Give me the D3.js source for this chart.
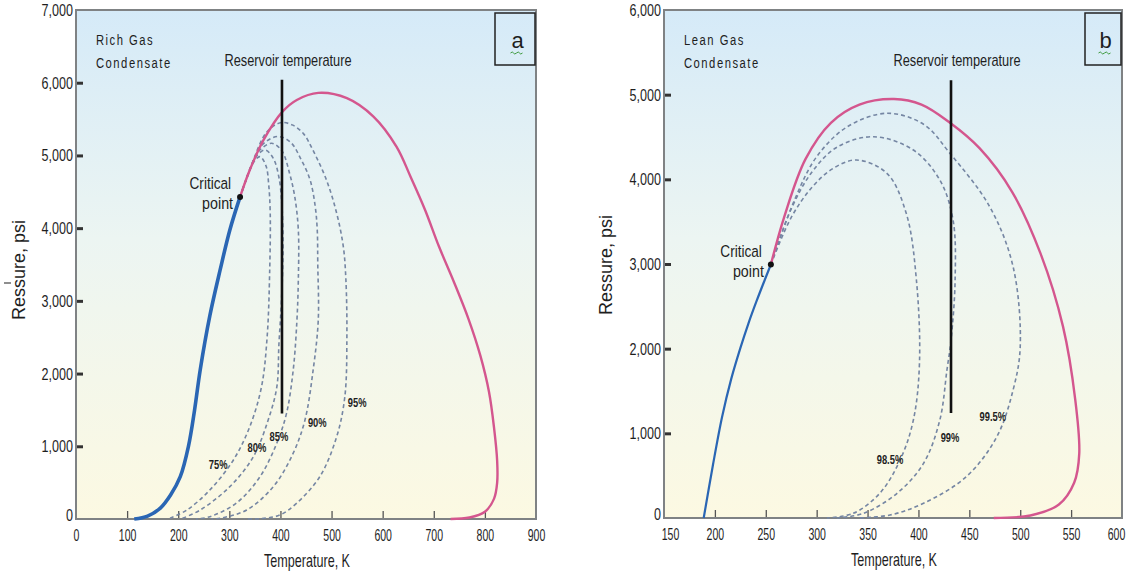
<!DOCTYPE html>
<html>
<head>
<meta charset="utf-8">
<script src="https://cdn.jsdelivr.net/npm/d3@7"></script>
<style>
  body { margin: 0; background: #fff; }
  svg text { font-family: "Liberation Sans", Arial, sans-serif; fill: #1e1e1e; }
</style>
</head>
<body>
<svg id="chart" width="1128" height="573"></svg>
<script>
// ---------- tick labels ----------
const tempTicksA = [0, 100, 200, 300, 400, 500, 600, 700, 800, 900];
const pressTicksA = [0, 1000, 2000, 3000, 4000, 5000, 6000, 7000];
const tempTicksB = [150, 200, 250, 300, 350, 400, 450, 500, 550, 600];
const pressTicksB = [0, 1000, 2000, 3000, 4000, 5000, 6000];

// ---------- panel a : rich gas condensate  [T (K), p (psi)] ----------
const bubbleA = [[114, 0], [140, 40], [165, 150], [185, 330], [204, 582], [220, 1000], [232, 1500],
  [243, 2050], [262, 2800], [282, 3425], [301, 3975], [321, 4430]];
const dewA = [[321, 4430], [340, 4800], [367, 5213], [404, 5602], [432, 5763], [474, 5860], [530, 5787],
  [582, 5534], [627, 5121], [655, 4700], [683, 4250], [710, 3750], [740, 3250], [768, 2750], [791, 2250],
  [808, 1750], [818, 1250], [824, 800], [824, 500], [818, 280], [800, 100], [770, 20], [733, 0]];
const q75A = [[321, 4430], [335, 4700], [347, 4900], [360, 4983], [372, 4850], [377, 4600], [380, 4205],
  [379, 3425], [374, 2508], [363, 1820], [340, 1270], [308, 812], [262, 400], [217, 124], [180, 0]];
const q80A = [[321, 4430], [338, 4760], [352, 4980], [370, 5075], [386, 4960], [397, 4700], [403, 4300],
  [405, 3700], [402, 3000], [397, 2400], [393, 1820], [376, 1362], [347, 857], [301, 445], [243, 124], [205, 0]];
const q85A = [[321, 4430], [340, 4800], [358, 5060], [383, 5167], [403, 5060], [418, 4750], [428, 4433],
  [435, 3975], [435, 3288], [432, 2700], [425, 2050], [412, 1456], [393, 1045], [360, 582], [314, 220],
  [262, 32], [235, 0]];
const q90A = [[321, 4430], [342, 4840], [365, 5150], [395, 5260], [420, 5180], [440, 4950], [458, 4663],
  [468, 4300], [472, 3976], [473, 3517], [474, 2737], [464, 2050], [448, 1362], [425, 905], [386, 445],
  [334, 124], [282, 10], [265, 0]];
const q95A = [[321, 4430], [345, 4900], [373, 5320], [400, 5450], [423, 5420], [445, 5300], [463, 5080],
  [490, 4663], [510, 4205], [523, 3746], [528, 3300], [530, 2508], [526, 1683], [510, 1132], [477, 582],
  [432, 220], [399, 55], [360, 5], [330, 0]];
const qualityLabelsA = ["75%", "80%", "85%", "90%", "95%"];
const qualityLabelPosA = [[278, 743], [354, 977], [397, 1128], [472, 1320], [550, 1596]];
const criticalA = [321, 4430];
const reservoirA = { temp: 403, from: 1450, to: 6040 };

// ---------- panel b : lean gas condensate ----------
const bubbleB = [[189, 0], [198, 620], [207, 1190], [216, 1640], [225, 2006], [233, 2300], [241, 2564], [255, 2994]];
const dewB = [[255, 2994], [268, 3552], [289, 4239], [314, 4668], [342, 4883], [376, 4948], [403, 4883],
  [431, 4668], [460, 4368], [492, 3853], [520, 3122], [542, 2263], [554, 1404], [558, 760], [553, 417],
  [538, 160], [510, 30], [474, 0]];
const q985B = [[255, 2994], [275, 3550], [295, 3900], [315, 4120], [339, 4228], [369, 4071], [388, 3599],
  [398, 2811], [401, 1827], [395, 1157], [382, 685], [362, 292], [336, 55], [310, 0]];
const q99B = [[255, 2994], [275, 3650], [295, 4080], [320, 4380], [356, 4503], [395, 4346], [421, 3992],
  [434, 3520], [436, 2800], [432, 2100], [428, 1748], [421, 1157], [405, 646], [379, 292], [346, 55], [320, 0]];
const q995B = [[255, 2994], [278, 3750], [300, 4267], [330, 4620], [369, 4780], [405, 4650], [431, 4306],
  [470, 3677], [493, 2968], [500, 2023], [493, 1512], [477, 960], [447, 488], [405, 174], [372, 35], [340, 0]];
const qualityLabelsB = ["98.5%", "99%", "99.5%"];
const qualityLabelPosB = [[372, 685], [431, 945], [473, 1193]];
const criticalB = [255, 2994];
const reservoirB = { temp: 432, from: 1240, to: 5170 };

const svg = d3.select("#chart");

const defs = svg.append("defs");
const grad = defs.append("linearGradient").attr("id", "bg").attr("x1", 0).attr("y1", 0).attr("x2", 0).attr("y2", 1);
grad.append("stop").attr("offset", "0%").attr("stop-color", "#d5eaf8");
grad.append("stop").attr("offset", "45%").attr("stop-color", "#ecf5f2");
grad.append("stop").attr("offset", "100%").attr("stop-color", "#fcf9e2");

// condensed text: the original figure uses a narrow face
function ntext(g, x, y, str, size, sx, anchor) {
  return g.append("text")
    .attr("transform", `translate(${x},${y}) scale(${sx},1)`)
    .attr("text-anchor", anchor || "start")
    .attr("font-size", size)
    .text(str);
}

function drawPanel(p) {
  const x = d3.scaleLinear().domain(p.xDomain).range([p.left, p.right]);
  const y = d3.scaleLinear().domain(p.yDomain).range([p.bottom, p.top]);
  const g = svg.append("g");

  // background
  g.append("rect").attr("x", p.left).attr("y", p.top)
    .attr("width", p.right - p.left).attr("height", p.bottom - p.top)
    .attr("fill", "url(#bg)");

  // axes, ticks inside the frame
  const yAxis = d3.axisLeft(y).tickValues(p.yTicks).tickFormat(d3.format(",")).tickSize(-7).tickPadding(4);
  const gy = g.append("g").attr("transform", `translate(${p.left},0)`).call(yAxis);
  gy.select(".domain").remove();
  gy.selectAll(".tick line").attr("stroke", "#333").attr("stroke-width", 3)
    .attr("opacity", d => (d === p.yDomain[0] || d === p.yDomain[1]) ? 0 : 1);
  gy.selectAll(".tick text").attr("font-size", 17).attr("fill", "#1e1e1e")
    .attr("transform", d => d === p.yDomain[0] ? "translate(0,-4) scale(0.74,1)" : "scale(0.74,1)")
    .style("font-family", '"Liberation Sans", Arial, sans-serif');

  const xAxis = d3.axisBottom(x).tickValues(p.xTicks).tickSize(-8).tickPadding(10);
  const gx = g.append("g").attr("transform", `translate(0,${p.bottom})`).call(xAxis);
  gx.select(".domain").remove();
  gx.selectAll(".tick line").attr("stroke", "#555").attr("stroke-width", 1.3)
    .attr("opacity", d => (d === p.xDomain[0] || d === p.xDomain[1]) ? 0 : 1);
  gx.selectAll(".tick text").attr("font-size", 17).attr("fill", "#1e1e1e")
    .attr("transform", d => {
      const dx = d === p.xDomain[1] ? p.shiftLast : (d === p.xDomain[0] ? p.shiftFirst : 0);
      return `translate(${dx},0) scale(0.62,1)`;
    })
    .style("font-family", '"Liberation Sans", Arial, sans-serif');

  // frame
  g.append("rect").attr("x", p.left).attr("y", p.top)
    .attr("width", p.right - p.left).attr("height", p.bottom - p.top)
    .attr("fill", "none").attr("stroke", "#7f8284").attr("stroke-width", 2);

  const line = d3.line().x(d => x(d[0])).y(d => y(d[1])).curve(d3.curveCatmullRom.alpha(0.5));

  // quality lines
  g.selectAll("path.q").data(p.quality).join("path").attr("class", "q")
    .attr("d", line).attr("fill", "none").attr("stroke", "#7586a3")
    .attr("stroke-width", 1.6).attr("stroke-dasharray", "4,3");

  // bubble and dew curves
  g.append("path").datum(p.bubble).attr("d", line).attr("fill", "none")
    .attr("stroke", "#2a66b4").attr("stroke-width", p.bubbleWidth);
  g.append("path").datum(p.dew).attr("d", line).attr("fill", "none")
    .attr("stroke", "#d4568e").attr("stroke-width", 2.4);

  // reservoir temperature line
  g.append("line").attr("x1", x(p.reservoir.temp)).attr("x2", x(p.reservoir.temp))
    .attr("y1", y(p.reservoir.from)).attr("y2", y(p.reservoir.to))
    .attr("stroke", "#111").attr("stroke-width", 2.6);
  ntext(g, x(p.reservoir.temp) + 6, y(p.reservoir.to) - 14, "Reservoir temperature", 16, 0.8, "middle");

  // critical point
  g.append("circle").attr("cx", x(p.critical[0])).attr("cy", y(p.critical[1])).attr("r", 3).attr("fill", "#111");
  ntext(g, x(p.critical[0]) - 9, y(p.critical[1]) - 8, "Critical", 17, 0.8, "end");
  ntext(g, x(p.critical[0]) - 7, y(p.critical[1]) + 12, "point", 17, 0.84, "end");

  // quality labels
  p.qLabels.forEach((d, i) => {
    ntext(g, x(p.qLabelPos[i][0]), y(p.qLabelPos[i][1]) + 4, d, 13, 0.72, "middle")
      .attr("font-weight", "bold").attr("fill", "#2a2a2a");
  });

  // fluid name
  ntext(g, p.left + 20, p.top + 35, p.name[0], 15, 0.75).attr("letter-spacing", 2).attr("fill", "#2a2a2a");
  ntext(g, p.left + 20, p.top + 58, p.name[1], 15, 0.75).attr("letter-spacing", 2).attr("fill", "#2a2a2a");

  // panel tag box
  g.append("rect").attr("x", p.right - p.tagW).attr("y", p.top + 3).attr("width", p.tagW - 1).attr("height", 52)
    .attr("fill", "none").attr("stroke", "#222").attr("stroke-width", 1.5);
  g.append("text").attr("x", p.right - p.tagW / 2 + 2).attr("y", p.top + 38).attr("text-anchor", "middle")
    .attr("font-size", 22).text(p.tag);
  const sx = p.right - p.tagW / 2 - 5, sy = p.top + 43;
  g.append("path").attr("d", `M${sx},${sy} q2,-2 3,0 t3,0 t3,0 t3,0`)
    .attr("fill", "none").attr("stroke", "#3c9a3c").attr("stroke-width", 1);

  // axis titles
  g.append("text").attr("transform", `translate(${p.yTitleX},${p.yTitleY}) rotate(-90)`)
    .attr("text-anchor", "middle").attr("font-size", 18).text("Ressure, psi");
  ntext(g, (p.left + p.right) / 2 + 1, p.bottom + 48, "Temperature, K", 18, 0.7, "middle");
}

drawPanel({
  left: 76, right: 536, top: 10, bottom: 519,
  xDomain: [0, 900], yDomain: [0, 7000], xTicks: tempTicksA, yTicks: pressTicksA,
  bubble: bubbleA, dew: dewA, quality: [q75A, q80A, q85A, q90A, q95A], bubbleWidth: 3.6,
  qLabels: qualityLabelsA, qLabelPos: qualityLabelPosA, critical: criticalA, reservoir: reservoirA,
  name: ["Rich Gas", "Condensate"], tag: "a", tagW: 41, yTitleX: 25, yTitleY: 270, shiftLast: 0, shiftFirst: 0
});

drawPanel({
  left: 664, right: 1122, top: 10, bottom: 518,
  xDomain: [150, 600], yDomain: [0, 6000], xTicks: tempTicksB, yTicks: pressTicksB,
  bubble: bubbleB, dew: dewB, quality: [q985B, q99B, q995B], bubbleWidth: 2.2,
  qLabels: qualityLabelsB, qLabelPos: qualityLabelPosB, critical: criticalB, reservoir: reservoirB,
  name: ["Lean Gas", "Condensate"], tag: "b", tagW: 37, yTitleX: 612, yTitleY: 265, shiftLast: -6, shiftFirst: 6
});

// stray mark left of panel a
svg.append("line").attr("x1", 4).attr("x2", 11).attr("y1", 283).attr("y2", 283)
  .attr("stroke", "#444").attr("stroke-width", 1.2);
</script>
</body>
</html>
